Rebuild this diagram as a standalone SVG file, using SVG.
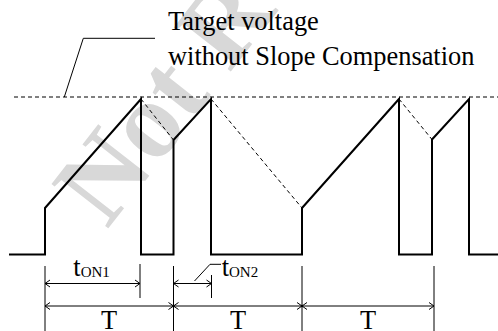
<svg xmlns="http://www.w3.org/2000/svg" width="498" height="331" viewBox="0 0 498 331">
<style>
.txt{font-family:"Liberation Serif","Times New Roman",serif;fill:#000}
.wave{fill:none;stroke:#000;stroke-width:2;stroke-linejoin:miter}
.dash{fill:none;stroke:#000;stroke-width:1;stroke-dasharray:4 3}
.thin{fill:none;stroke:#000;stroke-width:1}
.dim{fill:none;stroke:#000;stroke-width:1;marker-start:url(#arr);marker-end:url(#arr)}
.wm{font-family:"Liberation Serif","Times New Roman",serif;font-weight:bold;fill:#d8d8d8}
</style>
<defs>
<marker id="arr" viewBox="-7 -5 8 10" refX="0" refY="0" markerWidth="8" markerHeight="10" markerUnits="userSpaceOnUse" orient="auto-start-reverse">
<path d="M-5,-3.5 L0,0 L-5,3.5" fill="none" stroke="#000" stroke-width="1"/>
</marker>
</defs>
<rect width="498" height="331" fill="#fff"/>
<g id="watermark">
<text class="wm" x="0" y="0" font-size="110" transform="translate(107,230) rotate(-52)">Not Recommended</text>
</g>
<g id="target-label">
<text class="txt" x="168" y="30" font-size="26.4">Target voltage</text>
<text class="txt" x="168" y="64.5" font-size="26.4">without Slope Compensation</text>
</g>
<g id="connectors">
<line class="dash" x1="14" y1="97" x2="498" y2="97" stroke-dasharray="4 2.5"/>
<polyline class="thin" points="64.3,97 83.3,38.3 155,38.3"/>
<path class="wave" d="M9,254.5 H45 V208 L141,99 V254.5 H173.5 V140 L211,99 V254.5 H302 V208 L399,99 V254.5 H432 V139.5 L469,99 V254.5 H498"/>
<line class="dash" x1="141" y1="99" x2="173.5" y2="140"/>
<line class="dash" x1="211" y1="99" x2="302" y2="208"/>
<line class="dash" x1="399" y1="99" x2="432" y2="139.5"/>
<line class="thin" x1="45" y1="266" x2="45" y2="331"/>
<line class="thin" x1="140" y1="264" x2="140" y2="298"/>
<line class="thin" x1="173.5" y1="266" x2="173.5" y2="331"/>
<line class="thin" x1="211.5" y1="275" x2="211.5" y2="298"/>
<line class="thin" x1="302" y1="266" x2="302" y2="331"/>
<line class="thin" x1="434" y1="266" x2="434" y2="331"/>
<line class="dim" x1="45" y1="283.5" x2="140" y2="283.5"/>
<line class="dim" x1="173.5" y1="283.5" x2="211.5" y2="283.5"/>
<line class="dim" x1="45" y1="306" x2="173.5" y2="306"/>
<line class="dim" x1="173.5" y1="306" x2="302" y2="306"/>
<line class="dim" x1="302" y1="306" x2="434" y2="306"/>
<circle cx="173.5" cy="306" r="1.3" fill="#000"/>
<circle cx="302" cy="306" r="1.3" fill="#000"/>
<polyline class="thin" points="194.5,281 210,264.3 221,264.3"/>
</g>
<g id="ton1-label">
<text class="txt" x="73.3" y="275.5" font-size="26.4">t<tspan font-size="15" dy="1.5">ON1</tspan></text>
</g>
<g id="ton2-label">
<text class="txt" x="221.7" y="275.5" font-size="26.4">t<tspan font-size="15" dy="1.5">ON2</tspan></text>
</g>
<g id="period-labels">
<text class="txt" x="109" y="329" font-size="26.4" text-anchor="middle">T</text>
<text class="txt" x="238" y="329" font-size="26.4" text-anchor="middle">T</text>
<text class="txt" x="368" y="329" font-size="26.4" text-anchor="middle">T</text>
</g>
</svg>
